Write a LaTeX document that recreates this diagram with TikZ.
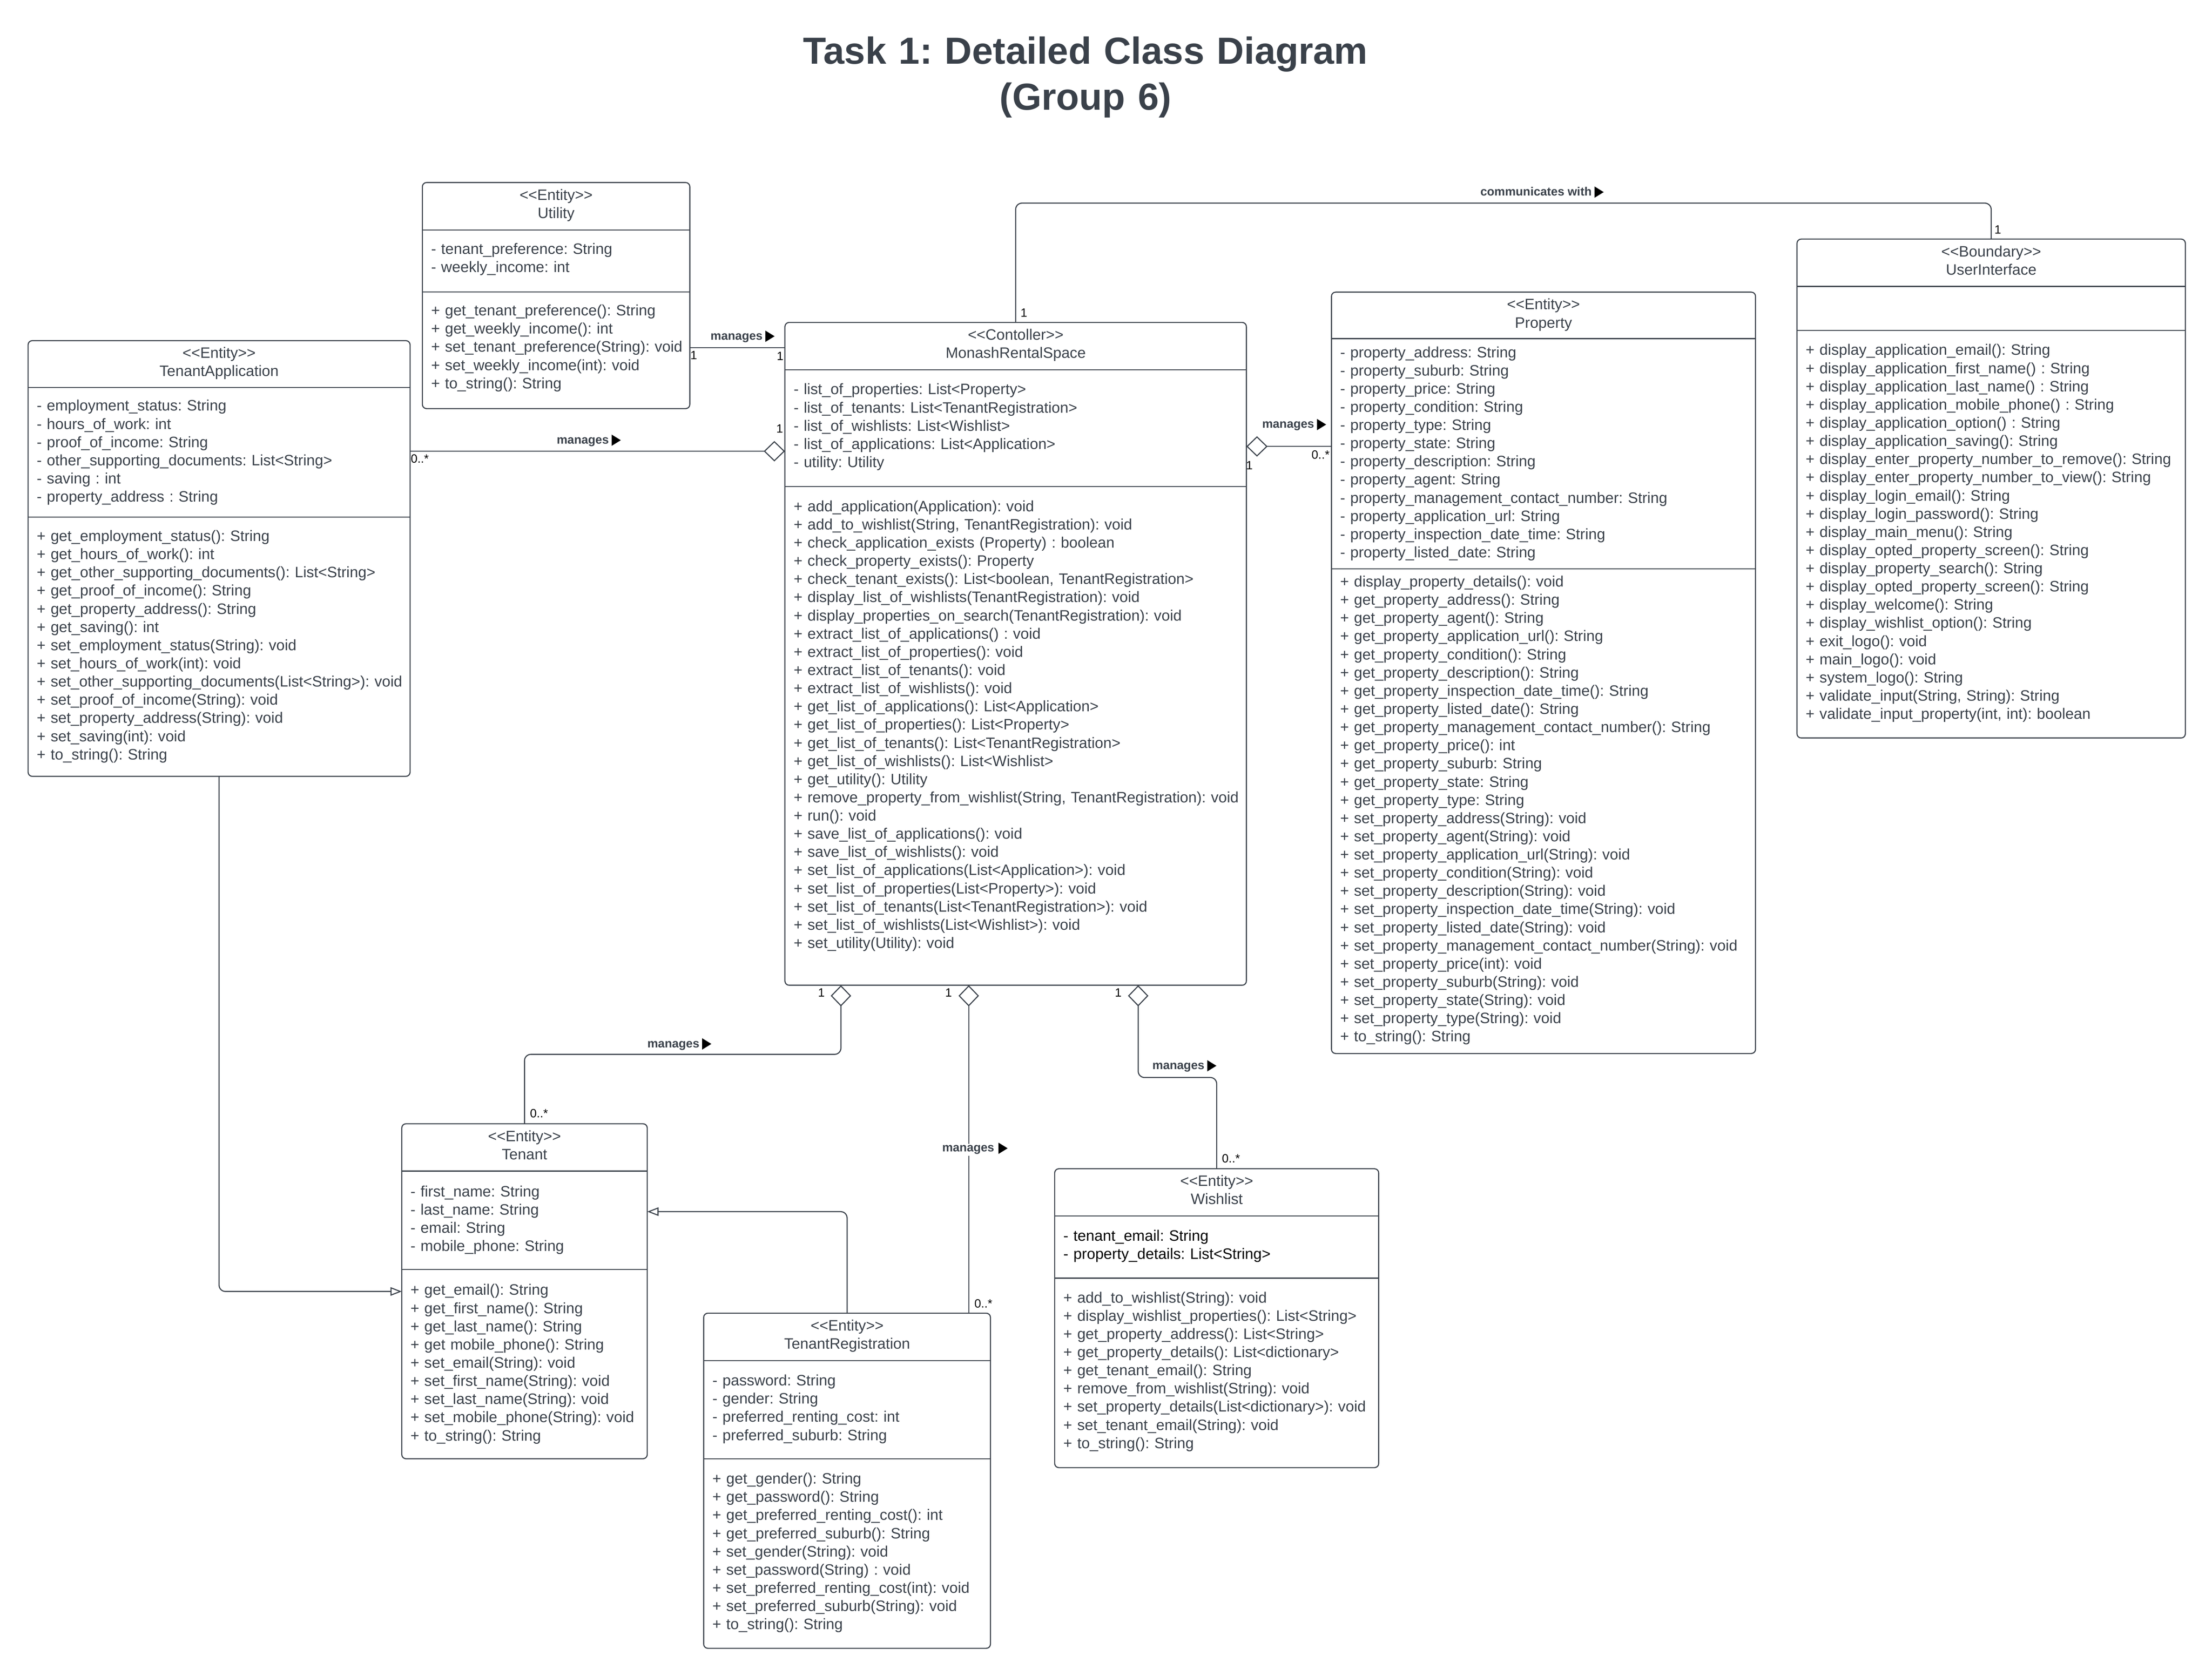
\documentclass[tikz,border=0pt]{standalone}
\usepackage{fontspec}
\setmainfont{Liberation Sans}[Ligatures=TeXOff]
\usetikzlibrary{arrows.meta}
\definecolor{ink}{HTML}{3A414A}
\frenchspacing

\begin{document}
\begin{tikzpicture}[x=1pt,y=-1pt,
  classbox/.style={draw=ink,line width=0.75pt,rounded corners=3pt,fill=white,inner sep=0pt,outer sep=0pt,anchor=north west},
  heading/.style={font=\bfseries\fontsize{26.7}{32.4}\selectfont,text=ink,align=center,text width=600pt,anchor=base,inner sep=0pt},
  hdr/.style={font=\fontsize{10.7}{12.9}\selectfont,text=ink,align=center,text width=300pt,anchor=base,inner sep=0pt},
  members/.style={font=\fontsize{10.7}{12.9}\selectfont,text=ink,align=left,text width=420pt,anchor=base west,inner sep=0pt},
  divider/.style={draw=ink,line width=0.75pt},
  link/.style={draw=ink,line width=0.75pt,rounded corners=4.5pt},
  aggstart/.style={{Diamond[open,length=15pt,width=14.5pt]}-},
  aggend/.style={-{Diamond[open,length=15pt,width=14.5pt]}},
  gen/.style={-{Triangle[open,length=8pt,width=6pt]}},
  rel/.style={font=\bfseries\fontsize{8.5}{10}\selectfont,text=ink,anchor=base west,inner sep=0pt},
  mult/.style={font=\fontsize{8.5}{10}\selectfont,text=black,anchor=base west,inner sep=0pt}]
\fill[white] (0,0) rectangle (1568,1188);
\useasboundingbox (0,0) rectangle (1568,1188);

\node[heading] (title) at (769.5,45.4) {Task 1: Detailed Class Diagram\\(Group 6)};

\node[classbox,minimum width=189.6pt,minimum height=160.3pt] (util) at (299.4,129.4) {};
\draw[divider] (util.west |- 0,163.0) -- (util.east |- 0,163.0);
\draw[divider] (util.west |- 0,207.0) -- (util.east |- 0,207.0);
\node[hdr] (util-head) at (394.2,141.8) {<<Entity>>\\Utility};
\node[members] (util-attr) at (305.4,180.1) {- tenant\_preference: String\\- weekly\_income: int};
\node[members] (util-ops) at (305.4,223.8) {+ get\_tenant\_preference(): String\\+ get\_weekly\_income(): int\\+ set\_tenant\_preference(String): void\\+ set\_weekly\_income(int): void\\+ to\_string(): String};

\node[classbox,minimum width=270.8pt,minimum height=308.9pt] (tapp) at (19.9,241.5) {};
\draw[divider] (tapp.west |- 0,274.8) -- (tapp.east |- 0,274.8);
\draw[divider] (tapp.west |- 0,366.5) -- (tapp.east |- 0,366.5);
\node[hdr] (tapp-head) at (155.3,253.9) {<<Entity>>\\TenantApplication};
\node[members] (tapp-attr) at (25.9,291.3) {- employment\_status: String\\- hours\_of\_work: int\\- proof\_of\_income: String\\- other\_supporting\_documents: List<String>\\- saving : int\\- property\_address : String};
\node[members] (tapp-ops) at (25.9,383.7) {+ get\_employment\_status(): String\\+ get\_hours\_of\_work(): int\\+ get\_other\_supporting\_documents(): List<String>\\+ get\_proof\_of\_income(): String\\+ get\_property\_address(): String\\+ get\_saving(): int\\+ set\_employment\_status(String): void\\+ set\_hours\_of\_work(int): void\\+ set\_other\_supporting\_documents(List<String>): void\\+ set\_proof\_of\_income(String): void\\+ set\_property\_address(String): void\\+ set\_saving(int): void\\+ to\_string(): String};

\node[classbox,minimum width=327.1pt,minimum height=469.9pt] (mrs) at (556.4,228.6) {};
\draw[divider] (mrs.west |- 0,262.2) -- (mrs.east |- 0,262.2);
\draw[divider] (mrs.west |- 0,345.0) -- (mrs.east |- 0,345.0);
\node[hdr] (mrs-head) at (720.0,241.0) {<<Contoller>>\\MonashRentalSpace};
\node[members] (mrs-attr) at (562.4,279.7) {- list\_of\_properties: List<Property>\\- list\_of\_tenants: List<TenantRegistration>\\- list\_of\_wishlists: List<Wishlist>\\- list\_of\_applications: List<Application>\\- utility: Utility};
\node[members] (mrs-ops) at (562.4,362.6) {+ add\_application(Application): void\\+ add\_to\_wishlist(String, TenantRegistration): void\\+ check\_application\_exists (Property) : boolean\\+ check\_property\_exists(): Property\\+ check\_tenant\_exists(): List<boolean, TenantRegistration>\\+ display\_list\_of\_wishlists(TenantRegistration): void\\+ display\_properties\_on\_search(TenantRegistration): void\\+ extract\_list\_of\_applications() : void\\+ extract\_list\_of\_properties(): void\\+ extract\_list\_of\_tenants(): void\\+ extract\_list\_of\_wishlists(): void\\+ get\_list\_of\_applications(): List<Application>\\+ get\_list\_of\_properties(): List<Property>\\+ get\_list\_of\_tenants(): List<TenantRegistration>\\+ get\_list\_of\_wishlists(): List<Wishlist>\\+ get\_utility(): Utility\\+ remove\_property\_from\_wishlist(String, TenantRegistration): void\\+ run(): void\\+ save\_list\_of\_applications(): void\\+ save\_list\_of\_wishlists(): void\\+ set\_list\_of\_applications(List<Application>): void\\+ set\_list\_of\_properties(List<Property>): void\\+ set\_list\_of\_tenants(List<TenantRegistration>): void\\+ set\_list\_of\_wishlists(List<Wishlist>): void\\+ set\_utility(Utility): void};

\node[classbox,minimum width=300.6pt,minimum height=539.8pt] (prop) at (943.8,207.1) {};
\draw[divider] (prop.west |- 0,240.1) -- (prop.east |- 0,240.1);
\draw[divider] (prop.west |- 0,403.3) -- (prop.east |- 0,403.3);
\node[hdr] (prop-head) at (1094.1,219.5) {<<Entity>>\\Property};
\node[members] (prop-attr) at (949.8,253.4) {- property\_address: String\\- property\_suburb: String\\- property\_price: String\\- property\_condition: String\\- property\_type: String\\- property\_state: String\\- property\_description: String\\- property\_agent: String\\- property\_management\_contact\_number: String\\- property\_application\_url: String\\- property\_inspection\_date\_time: String\\- property\_listed\_date: String};
\node[members] (prop-ops) at (949.8,416.0) {+ display\_property\_details(): void\\+ get\_property\_address(): String\\+ get\_property\_agent(): String\\+ get\_property\_application\_url(): String\\+ get\_property\_condition(): String\\+ get\_property\_description(): String\\+ get\_property\_inspection\_date\_time(): String\\+ get\_property\_listed\_date(): String\\+ get\_property\_management\_contact\_number(): String\\+ get\_property\_price(): int\\+ get\_property\_suburb: String\\+ get\_property\_state: String\\+ get\_property\_type: String\\+ set\_property\_address(String): void\\+ set\_property\_agent(String): void\\+ set\_property\_application\_url(String): void\\+ set\_property\_condition(String): void\\+ set\_property\_description(String): void\\+ set\_property\_inspection\_date\_time(String): void\\+ set\_property\_listed\_date(String): void\\+ set\_property\_management\_contact\_number(String): void\\+ set\_property\_price(int): void\\+ set\_property\_suburb(String): void\\+ set\_property\_state(String): void\\+ set\_property\_type(String): void\\+ to\_string(): String};

\node[classbox,minimum width=275.3pt,minimum height=353.7pt] (ui) at (1273.8,169.5) {};
\draw[divider] (ui.west |- 0,203.1) -- (ui.east |- 0,203.1);
\draw[divider] (ui.west |- 0,234.2) -- (ui.east |- 0,234.2);
\node[hdr] (ui-head) at (1411.5,181.9) {<<Boundary>>\\UserInterface};
\node[members] (ui-ops) at (1279.8,251.8) {+ display\_application\_email(): String\\+ display\_application\_first\_name() : String\\+ display\_application\_last\_name() : String\\+ display\_application\_mobile\_phone() : String\\+ display\_application\_option() : String\\+ display\_application\_saving(): String\\+ display\_enter\_property\_number\_to\_remove(): String\\+ display\_enter\_property\_number\_to\_view(): String\\+ display\_login\_email(): String\\+ display\_login\_password(): String\\+ display\_main\_menu(): String\\+ display\_opted\_property\_screen(): String\\+ display\_property\_search(): String\\+ display\_opted\_property\_screen(): String\\+ display\_welcome(): String\\+ display\_wishlist\_option(): String\\+ exit\_logo(): void\\+ main\_logo(): void\\+ system\_logo(): String\\+ validate\_input(String, String): String\\+ validate\_input\_property(int, int): boolean};

\node[classbox,minimum width=174.0pt,minimum height=237.5pt] (ten) at (284.8,796.7) {};
\draw[divider] (ten.west |- 0,830.2) -- (ten.east |- 0,830.2);
\draw[divider] (ten.west |- 0,900.0) -- (ten.east |- 0,900.0);
\node[hdr] (ten-head) at (371.8,809.1) {<<Entity>>\\Tenant};
\node[members] (ten-attr) at (290.8,848.4) {- first\_name: String\\- last\_name: String\\- email: String\\- mobile\_phone: String};
\node[members] (ten-ops) at (290.8,918.2) {+ get\_email(): String\\+ get\_first\_name(): String\\+ get\_last\_name(): String\\+ get mobile\_phone(): String\\+ set\_email(String): void\\+ set\_first\_name(String): void\\+ set\_last\_name(String): void\\+ set\_mobile\_phone(String): void\\+ to\_string(): String};

\node[classbox,minimum width=203.3pt,minimum height=237.6pt] (treg) at (498.8,931.0) {};
\draw[divider] (treg.west |- 0,964.6) -- (treg.east |- 0,964.6);
\draw[divider] (treg.west |- 0,1034.2) -- (treg.east |- 0,1034.2);
\node[hdr] (treg-head) at (600.5,943.4) {<<Entity>>\\TenantRegistration};
\node[members] (treg-attr) at (504.8,982.4) {- password: String\\- gender: String\\- preferred\_renting\_cost: int\\- preferred\_suburb: String};
\node[members] (treg-ops) at (504.8,1052.0) {+ get\_gender(): String\\+ get\_password(): String\\+ get\_preferred\_renting\_cost(): int\\+ get\_preferred\_suburb(): String\\+ set\_gender(String): void\\+ set\_password(String) : void\\+ set\_preferred\_renting\_cost(int): void\\+ set\_preferred\_suburb(String): void\\+ to\_string(): String};

\node[classbox,minimum width=229.7pt,minimum height=211.9pt] (wish) at (747.6,828.6) {};
\draw[divider] (wish.west |- 0,862.0) -- (wish.east |- 0,862.0);
\draw[divider] (wish.west |- 0,906.1) -- (wish.east |- 0,906.1);
\node[hdr] (wish-head) at (862.5,841.0) {<<Entity>>\\Wishlist};
\node[members,text=black] (wish-attr) at (753.6,879.8) {- tenant\_email: String\\- property\_details: List<String>};
\node[members] (wish-ops) at (753.6,923.6) {+ add\_to\_wishlist(String): void\\+ display\_wishlist\_properties(): List<String>\\+ get\_property\_address(): List<String>\\+ get\_property\_details(): List<dictionary>\\+ get\_tenant\_email(): String\\+ remove\_from\_wishlist(String): void\\+ set\_property\_details(List<dictionary>): void\\+ set\_tenant\_email(String): void\\+ to\_string(): String};

\draw[link] (util.east |- 0,246.5) -- (mrs.west |- 0,246.5);
\draw[link,aggend] (tapp.east |- 0,319.9) -- (mrs.west |- 0,319.9);
\draw[link] (mrs.north) |- (ui.north |- 0,144.0) -- (ui.north);
\draw[link,aggstart] (mrs.east |- 0,316.5) -- (prop.west |- 0,316.5);
\draw[link,aggstart] (mrs.south -| 596.1,0) |- (ten.north |- 0,747.5) -- (ten.north);
\draw[link,aggstart] (mrs.south -| 686.7,0) -- (treg.north -| 686.7,0);
\draw[link,aggstart] (mrs.south -| 806.8,0) |- (wish.north |- 0,763.9) -- (wish.north);
\draw[link,gen] (tapp.south) |- (ten.west |- 0,915.6);
\draw[link,gen] (treg.north) |- (ten.east |- 0,859.0);

\node[rel] (util-rel) at (503.5,240.9) {manages};
\node[rel] (tapp-rel) at (394.5,314.6) {manages};
\node[rel] (prop-rel) at (894.5,303.5) {manages};
\node[rel] (ui-rel) at (1049.2,138.7) {communicates with};
\node[rel] (ten-rel) at (458.7,742.6) {manages};
\node[rel,fill=white,inner sep=1pt] (treg-rel) at (666.7,816.6) {manages};
\node[rel] (wish-rel) at (816.7,758.1) {manages};
\foreach \r in {util-rel,tapp-rel,prop-rel,ui-rel,ten-rel,treg-rel,wish-rel}
  \fill[black] (\r.base east) ++(1.8,-6.5) -- ++(6.5,4) -- ++(-6.5,4) -- cycle;

\node[mult] (m1) at (489.2,254.9) {1};
\node[mult] (m2) at (550.4,255.3) {1};
\node[mult] (m3) at (550.1,306.7) {1};
\node[mult] (m4) at (291.0,328.3) {0..*};
\node[mult] (m5) at (723.2,224.6) {1};
\node[mult] (m6) at (1413.6,165.6) {1};
\node[mult] (m7) at (883.1,332.9) {1};
\node[mult] (m8) at (929.5,325.5) {0..*};
\node[mult] (m9) at (579.7,706.6) {1};
\node[mult] (m10) at (669.8,706.6) {1};
\node[mult] (m11) at (790.1,706.6) {1};
\node[mult] (m12) at (375.5,792.4) {0..*};
\node[mult] (m13) at (690.5,927.0) {0..*};
\node[mult] (m14) at (866.0,824.2) {0..*};
\end{tikzpicture}
\end{document}
